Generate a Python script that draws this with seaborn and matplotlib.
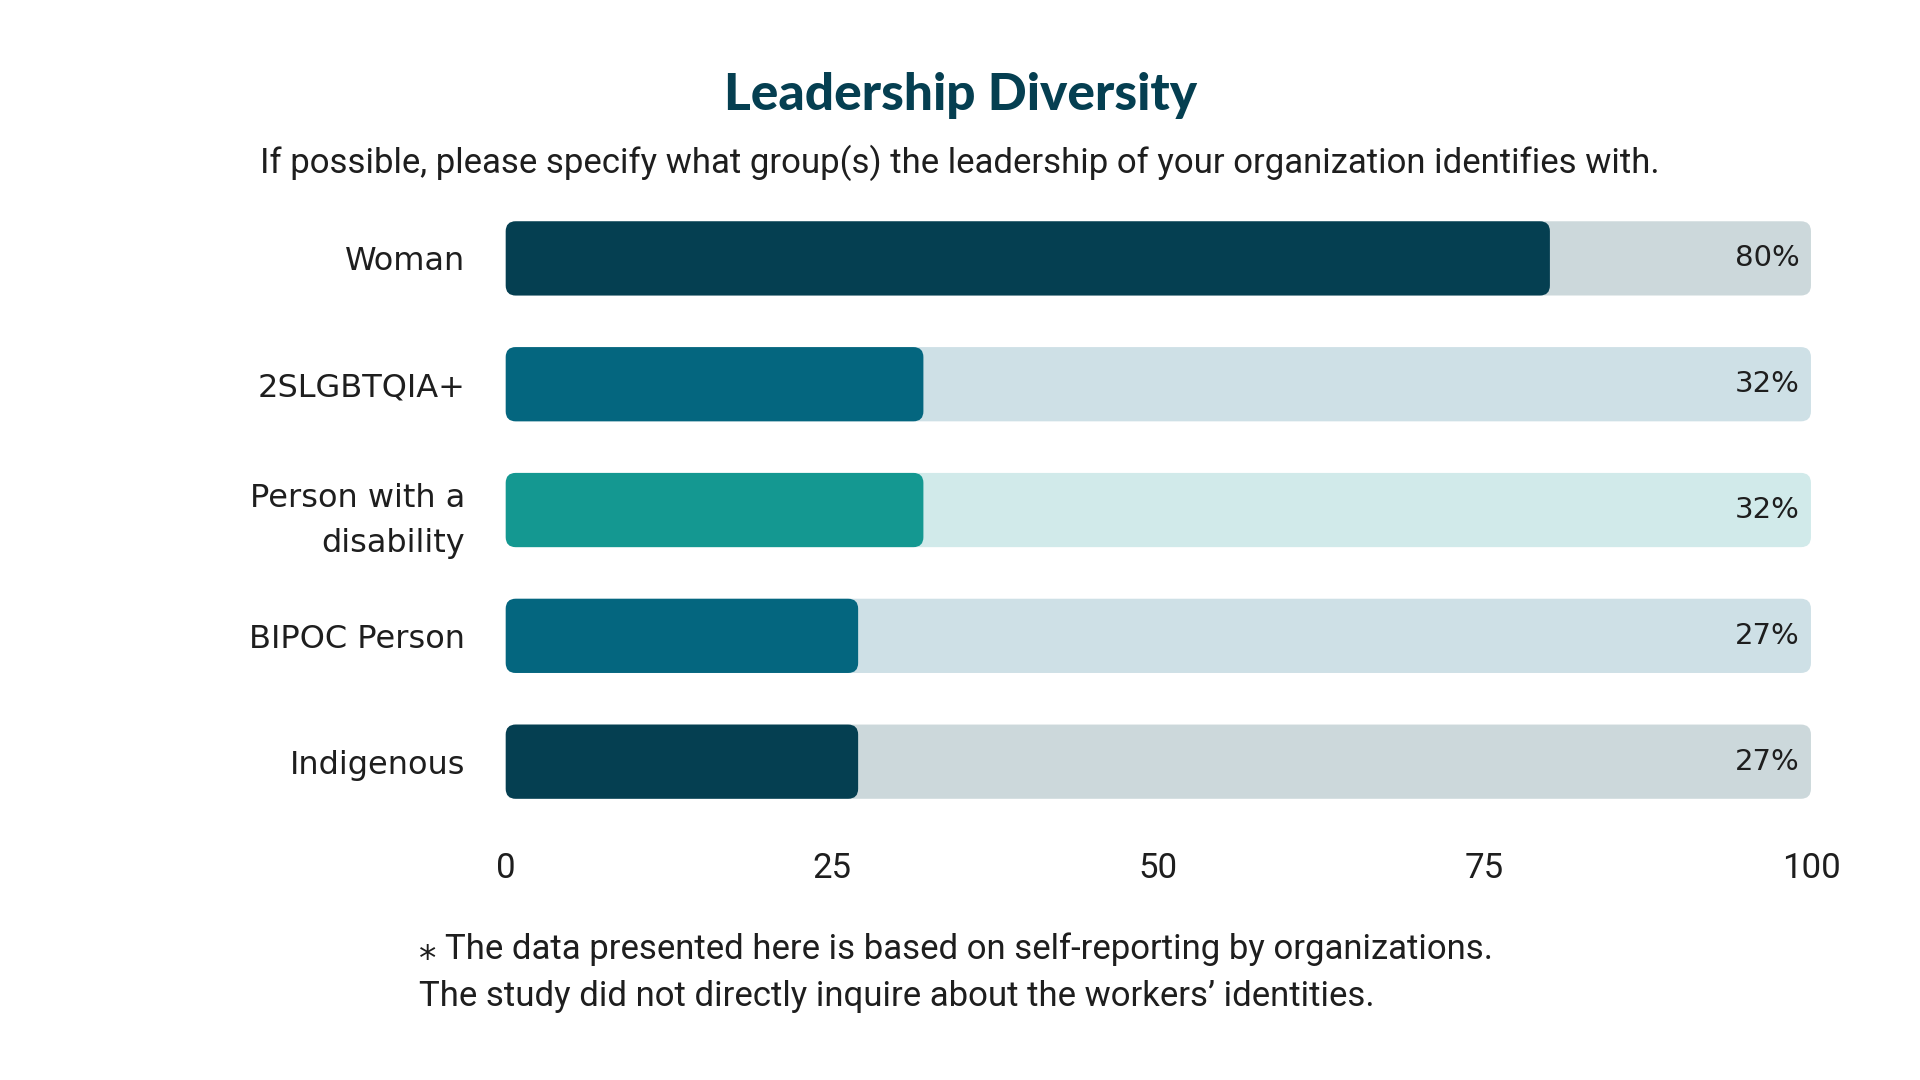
import pandas as pd
import numpy as np
import matplotlib.pyplot as plt
import seaborn as sns
from matplotlib.patches import FancyBboxPatch

# data
groups = ['Woman', '2SLGBTQIA+', 'Person with a\ndisability', 'BIPOC Person', 'Indigenous']
shares = [80, 32, 32, 27, 27]
track_max = 100
ticks = [0, 25, 50, 75, 100]

bar_colors = ['#053F51', '#04667F', '#149891', '#04667F', '#053F51']
track_colors = ['#CCD8DB', '#CEE0E6', '#D1EAEA', '#CEE0E6', '#CCD8DB']

df = pd.DataFrame({'group': groups, 'share': shares, 'track': [track_max] * len(groups)})

sns.set_style('white')
plt.rcParams['font.family'] = ['DejaVu Sans']

fig = plt.figure(figsize=(19.2, 10.8), dpi=100)
ax = fig.add_axes([0.2634, 0.2365, 0.6798, 0.5825])

sns.barplot(data=df, y='group', x='track', hue='group', palette=track_colors, saturation=1,
            width=0.59, linewidth=0, legend=False, ax=ax)
sns.barplot(data=df, y='group', x='share', hue='group', palette=bar_colors, saturation=1,
            width=0.59, linewidth=0, legend=False, ax=ax)

ax.set_xlim(0, track_max)
ax.set_ylim(len(groups) - 0.5, -0.5)

# swap the square bars for rounded ones
fig.canvas.draw()
p0 = ax.transData.transform((0, 0))
p1 = ax.transData.transform((1, 1))
aspect = abs(p1[1] - p0[1]) ** -1 / abs(p1[0] - p0[0]) ** -1
radius = 10 / abs(p1[0] - p0[0])
old = list(ax.patches)
for p in old:
    x, y = p.get_x(), p.get_y()
    w, h = p.get_width(), p.get_height()
    if w <= 0:
        continue
    fc = p.get_facecolor()
    z = p.get_zorder()
    p.remove()
    ax.add_patch(FancyBboxPatch((x, y), w, h,
                                boxstyle=f'round,pad=0,rounding_size={radius}',
                                mutation_aspect=aspect, facecolor=fc,
                                edgecolor='none', zorder=z, clip_on=False))

for i, v in enumerate(shares):
    ax.annotate(f'{v}%', xy=(track_max, i), xytext=(-8, 0), textcoords='offset points',
                ha='right', va='center', fontsize=21, color='#1E1E1E')

sns.despine(ax=ax, left=True, bottom=True)
ax.set_xlabel('')
ax.set_ylabel('')
ax.set_xticks(ticks)
ax.set_xticklabels([str(t) for t in ticks])
ax.tick_params(axis='x', length=0, pad=20, labelsize=25, labelcolor='#1E1E1E')
ax.tick_params(axis='y', length=0, pad=29, labelsize=23, labelcolor='#1E1E1E')
for lbl in ax.get_xticklabels():
    lbl.set_family(['Roboto', 'DejaVu Sans'])
for lbl in ax.get_yticklabels():
    lbl.set_linespacing(1.6)
    lbl.set_multialignment('right')

fig.text(0.5003, 0.912, 'Leadership Diversity', ha='center', va='center',
         fontsize=37, fontweight='black', family=['Lato', 'DejaVu Sans'], color='#053F51')
fig.text(0.4997, 0.849,
         'If possible, please specify what group(s) the leadership of your organization identifies with.',
         ha='center', va='center', fontsize=25, family=['Roboto', 'DejaVu Sans'], color='#1E1E1E')
fig.text(0.2181, 0.1213, '⁎ The data presented here is based on self-reporting by organizations.',
         ha='left', va='center', fontsize=25, family=['Roboto', 'DejaVu Sans'], color='#1E1E1E')
fig.text(0.2181, 0.0771, 'The study did not directly inquire about the workers’ identities.',
         ha='left', va='center', fontsize=25, family=['Roboto', 'DejaVu Sans'], color='#1E1E1E')

fig.savefig('out.png', dpi=100, facecolor='white')
